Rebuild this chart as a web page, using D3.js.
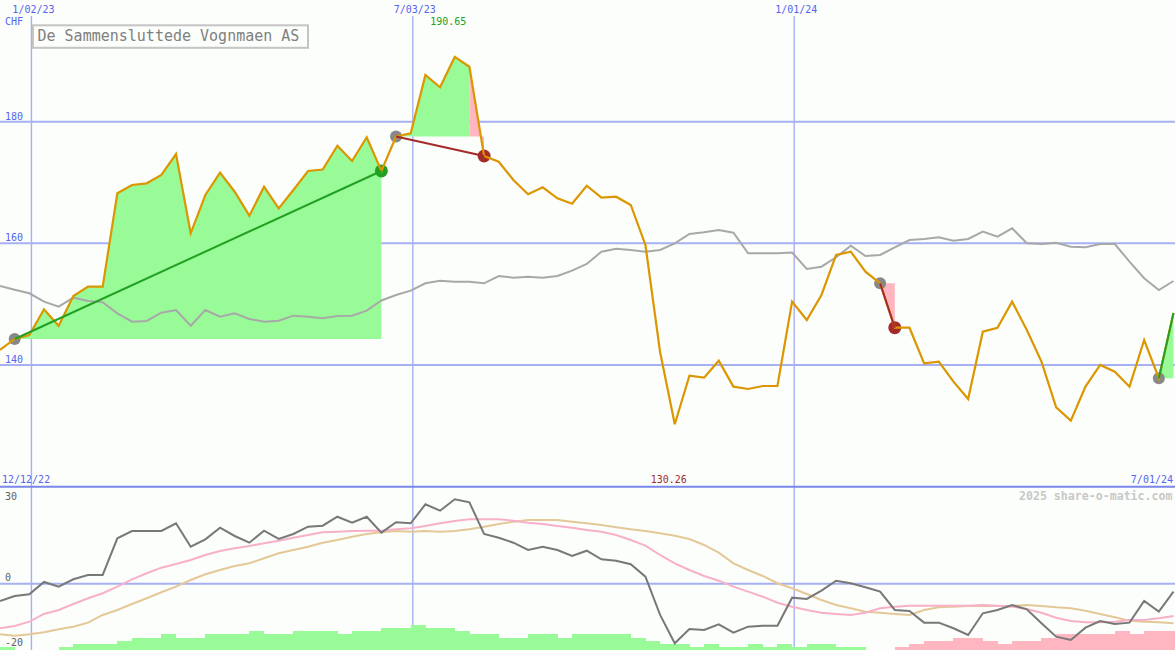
<!DOCTYPE html>
<html>
<head>
<meta charset="utf-8">
<script src="https://cdnjs.cloudflare.com/ajax/libs/d3/7.8.5/d3.min.js"></script>
<style>
	html, body { margin: 0; padding: 0; background: #fbfefb; }
	svg { display: block; }
	text { font-family: "DejaVu Sans Mono", monospace; }
</style>
</head>
<body>
<svg id="chart" width="1175" height="650"></svg>
<script>
'use strict';

// Weekly closes, De Sammensluttede Vognmaen AS (CHF), with a benchmark line,
// an oscillator panel and trade markers. Share-o-matic style.

const firstWeek = new Date(2022, 11, 18);

const priceClose = [
	142.47, 144.28, 144.94, 149.16, 146.46, 151.35, 152.88, 152.88, 168.23, 169.59,
	169.87, 171.24, 174.69, 161.65, 167.95, 171.62, 168.49, 164.55, 169.31, 165.76,
	168.77, 171.90, 172.14, 176.05, 173.54, 177.44, 171.90, 177.57, 178.09, 187.68,
	185.66, 190.65, 189.04, 174.36, 173.42, 170.42, 168.07, 169.22, 167.41, 166.52,
	169.48, 167.51, 167.67, 166.31, 159.73, 142.14, 130.26, 138.24, 137.92, 140.71,
	136.44, 136.06, 136.55, 136.55, 150.41, 147.40, 151.51, 158.09, 158.63, 155.34,
	153.43, 146.13, 146.13, 140.28, 140.55, 137.26, 134.41, 145.48, 146.13, 150.41,
	145.76, 140.55, 133.05, 130.85, 136.44, 140.00, 138.90, 136.44, 144.11, 137.82,
	148.55
];

const benchmark = [
	152.99, 152.38, 151.79, 150.41, 149.59, 151.07, 150.52, 150.31, 148.50, 147.12,
	147.24, 148.60, 149.04, 146.46, 149.04, 147.94, 148.50, 147.57, 147.12, 147.29,
	148.11, 147.94, 147.68, 148.06, 148.11, 148.93, 150.61, 151.51, 152.22, 153.43,
	153.86, 153.70, 153.70, 153.43, 154.63, 154.35, 154.52, 154.35, 154.63, 155.51,
	156.61, 158.63, 159.12, 158.91, 158.63, 158.91, 160.01, 161.54, 161.82, 162.20,
	161.75, 158.37, 158.37, 158.37, 158.50, 155.78, 156.16, 157.71, 159.62, 157.92,
	158.09, 159.35, 160.55, 160.72, 161.00, 160.44, 160.72, 161.92, 161.09, 162.48,
	160.01, 159.89, 160.11, 159.45, 159.35, 159.89, 159.89, 156.98, 154.26, 152.33,
	153.81
];

const momentum = [
	-5.48, -3.90, -3.36, 0.54, -0.95, 1.39, 2.76, 2.76, 14.38, 16.69,
	16.69, 16.69, 19.13, 11.72, 14.06, 17.74, 15.11, 12.99, 16.79, 14.16,
	15.74, 18.06, 18.37, 21.22, 19.32, 21.22, 16.16, 19.45, 19.13, 25.15,
	23.12, 26.73, 25.78, 15.74, 14.57, 12.99, 10.67, 11.72, 10.67, 8.77,
	10.45, 7.73, 7.29, 6.15, 2.22, -9.91, -18.88, -14.35, -14.67, -12.86,
	-15.52, -13.62, -13.30, -13.30, -4.43, -4.85, -2.22, 0.95, 0.13, -1.14,
	-2.53, -8.33, -8.65, -12.35, -12.35, -14.13, -16.25, -9.38, -8.33, -6.75,
	-8.11, -12.54, -16.79, -17.83, -13.94, -11.82, -12.77, -12.35, -5.48, -8.87,
	-2.53
];

const fastAverage = [
	-14.13, -13.40, -12.04, -9.60, -8.33, -6.43, -4.62, -3.04, -0.95, 1.39,
	3.29, 5.07, 6.24, 7.51, 9.09, 10.36, 11.21, 11.94, 12.80, 13.62,
	14.57, 15.43, 16.28, 16.47, 16.69, 16.79, 16.79, 17.23, 17.55, 18.28,
	19.13, 19.86, 20.40, 20.40, 20.40, 19.96, 19.32, 18.91, 18.28, 17.74,
	17.01, 16.47, 15.43, 13.84, 12.04, 9.09, 6.46, 4.34, 2.44, 0.95,
	-0.95, -2.53, -4.12, -6.02, -7.29, -8.33, -9.19, -9.60, -9.91, -9.19,
	-7.79, -7.29, -6.97, -6.97, -6.97, -6.97, -6.97, -6.75, -6.97, -7.29,
	-8.01, -9.19, -10.77, -11.82, -12.23, -12.23, -12.04, -11.50, -11.50, -10.96,
	-10.23
];

const slowAverage = [
	-16.03, -16.47, -16.03, -15.40, -14.44, -13.62, -12.35, -9.91, -8.33, -6.43,
	-4.62, -2.72, -0.95, 1.17, 2.98, 4.34, 5.61, 6.46, 8.05, 9.63,
	10.67, 11.72, 12.99, 13.84, 14.89, 15.74, 16.28, 16.69, 16.47, 16.69,
	16.47, 16.69, 17.23, 18.06, 18.91, 19.64, 20.18, 20.18, 20.18, 19.64,
	19.13, 18.59, 17.87, 17.23, 16.69, 15.96, 15.20, 14.16, 12.26, 9.82,
	6.46, 4.34, 2.44, 0.13, -1.46, -3.26, -5.16, -6.75, -7.79, -8.87,
	-9.19, -9.60, -9.91, -8.33, -7.48, -7.29, -7.06, -7.06, -7.06, -7.06,
	-6.75, -7.06, -7.48, -7.79, -8.55, -9.60, -10.64, -11.72, -12.04, -12.23,
	-12.54
];

// signed strength bars: + green, - pink
const signalBars = [
	1, 0, 0, 0, 1, 2, 2, 2, 3, 4,
	4, 5, 4, 4, 5, 5, 5, 6, 5, 5,
	6, 6, 6, 5, 6, 6, 7, 7, 8, 7,
	7, 6, 5, 5, 4, 4, 5, 5, 4, 5,
	5, 5, 5, 4, 3, 2, 2, 1, 2, 1,
	1, 2, 1, 2, 1, 2, 2, 1, 1, 0,
	0, -1, -2, -3, -3, -4, -4, -3, -2, -3,
	-3, -4, -5, -5, -5, -5, -6, -5, -6, -6,
	-6
];

// trades: week index of entry and exit (null = still open)
const tradeEntries = [1, 27, 60, 79];
const tradeExits = [26, 33, 61, null];

const priceTicks = [180, 160, 140];
const oscTicks = [30, 0, -20];
const gridDates = [new Date(2023, 0, 2), new Date(2023, 6, 3), new Date(2024, 0, 1)];
const edgeDates = ['12/12/22', '7/01/24'];
const title = 'De Sammensluttede Vognmaen AS';
const currency = 'CHF';
const credit = '2025 share-o-matic.com';

const chart = (() => {

	const W = 1175, H = 650;
	const SPLIT = 486.7;

	const PALETTE = {
		bg: '#fbfefb',
		grid: '#a6b0f2',
		split: '#7a86ea',
		label: '#5664ee',
		oscLabel: '#606060',
		price: '#dc9600',
		bench: '#a8a8a8',
		gain: '#98fb98',
		loss: '#ffb6c1',
		win: '#22a022',
		lose: '#a52a2a',
		entry: '#888888',
		momentum: '#787878',
		fast: '#f8b0c8',
		slow: '#e4c898',
		titleBox: '#c4c4c4',
		titleText: '#808080',
		credit: '#c8c8c8'
	};

	const svg = d3.select('#chart');
	const weeks = priceClose.map((_, i) => d3.timeWeek.offset(firstWeek, i));

	const x = d3.scaleTime()
		.domain([weeks[0], weeks[weeks.length - 1]])
		.range([0, 1173.5]);
	const yPrice = d3.scaleLinear().domain([140, 180]).range([365, 121.7]);
	const yOsc = d3.scaleLinear().domain([-20, 30]).range([646.8, 489]);
	const yBar = d3.scaleLinear().domain([0, 8]).range([650, 625]);

	const xi = (i) => x(weeks[i]);

	function clip(id, y0, y1) {
		svg.append('clipPath').attr('id', id)
			.append('rect').attr('x', 0).attr('y', y0).attr('width', W).attr('height', y1 - y0);
	}

	// ----------------------- grid -----------------------------------------

	function paintGrid() {
		svg.append('rect').attr('width', W).attr('height', H).attr('fill', PALETTE.bg);

		svg.append('g')
			.call(d3.axisLeft(yPrice).tickValues(priceTicks).tickSize(-W)
				.tickFormat(d3.format('d')).offset(0))
			.call((g) => g.select('.domain').remove())
			.call((g) => g.selectAll('line').attr('stroke', PALETTE.grid).attr('stroke-width', 2))
			.call((g) => g.selectAll('text')
				.attr('x', 5).attr('dy', -2.2).attr('text-anchor', 'start')
				.attr('fill', PALETTE.label)
				.style('font-family', '"DejaVu Sans Mono", monospace').style('font-size', '10px'));

		svg.append('g')
			.call(d3.axisLeft(yOsc).tickValues([0]).tickSize(-W).tickFormat('').offset(0))
			.call((g) => g.select('.domain').remove())
			.call((g) => g.selectAll('line').attr('stroke', PALETTE.grid).attr('stroke-width', 2));

		svg.append('g').attr('transform', 'translate(0,16)')
			.call(d3.axisTop(x).tickValues(gridDates).tickSize(-(H - 16))
				.tickFormat(d3.timeFormat('%-m/%d/%y')).offset(0))
			.call((g) => g.select('.domain').remove())
			.call((g) => g.selectAll('line').attr('stroke', PALETTE.grid).attr('stroke-width', 1.4))
			.call((g) => g.selectAll('text')
				.attr('dx', 2).attr('y', -3.5).attr('fill', PALETTE.label)
				.style('font-family', '"DejaVu Sans Mono", monospace').style('font-size', '10px'));

		svg.append('line')
			.attr('x1', 0).attr('x2', W).attr('y1', SPLIT).attr('y2', SPLIT)
			.attr('stroke', PALETTE.split).attr('stroke-width', 2);
	}

	// ----------------------- price panel ----------------------------------

	function paintTradeFills() {
		const g = svg.append('g').attr('clip-path', 'url(#main)');
		tradeEntries.forEach((entry, t) => {
			const exit = tradeExits[t] == null ? priceClose.length - 1 : tradeExits[t];
			const level = priceClose[entry];
			const area = d3.area()
				.x((i) => xi(i))
				.y0(yPrice(level))
				.y1((i) => yPrice(priceClose[i]));
			// group consecutive segments of the same colour into one polygon
			let runStart = entry;
			for (let i = entry; i < exit; i++) {
				const up = priceClose[i + 1] >= level;
				const nextUp = i + 1 < exit ? priceClose[i + 2] >= level : null;
				if (nextUp !== up) {
					g.append('path')
						.attr('d', area(d3.range(runStart, i + 2)))
						.attr('fill', up ? PALETTE.gain : PALETTE.loss);
					runStart = i + 1;
				}
			}
		});
	}

	function paintMarkers() {
		const g = svg.append('g').attr('clip-path', 'url(#main)');
		tradeEntries.forEach((entry, t) => {
			const exit = tradeExits[t];
			g.append('circle')
				.attr('cx', xi(entry)).attr('cy', yPrice(priceClose[entry]))
				.attr('r', 6).attr('fill', PALETTE.entry);
			if (exit == null) return;
			const won = priceClose[exit] >= priceClose[entry];
			g.append('circle')
				.attr('cx', xi(exit)).attr('cy', yPrice(priceClose[exit]))
				.attr('r', 6.5).attr('fill', won ? PALETTE.win : PALETTE.lose);
		});
	}

	function paintPriceLines() {
		const g = svg.append('g').attr('clip-path', 'url(#main)').attr('fill', 'none');
		const line = (series) => d3.line().x((_, i) => xi(i)).y((v) => yPrice(v))(series);
		g.append('path').attr('d', line(benchmark))
			.attr('stroke', PALETTE.bench).attr('stroke-width', 2);
		g.append('path').attr('d', line(priceClose))
			.attr('stroke', PALETTE.price).attr('stroke-width', 2.2);
	}

	function paintTradeLines() {
		const g = svg.append('g').attr('clip-path', 'url(#main)');
		tradeEntries.forEach((entry, t) => {
			const exit = tradeExits[t] == null ? priceClose.length - 1 : tradeExits[t];
			const won = priceClose[exit] >= priceClose[entry];
			g.append('line')
				.attr('x1', xi(entry)).attr('y1', yPrice(priceClose[entry]))
				.attr('x2', xi(exit)).attr('y2', yPrice(priceClose[exit]))
				.attr('stroke', won ? PALETTE.win : PALETTE.lose).attr('stroke-width', 2);
		});
	}

	function paintExtremes() {
		const hi = d3.maxIndex(priceClose), lo = d3.minIndex(priceClose);
		const fmt = d3.format('.2f');
		svg.append('text').attr('x', xi(hi) - 24.5).attr('y', 25)
			.attr('fill', PALETTE.win).style('font-size', '10px').text(fmt(priceClose[hi]));
		svg.append('text').attr('x', xi(lo) - 24).attr('y', 483)
			.attr('fill', PALETTE.lose).style('font-size', '10px').text(fmt(priceClose[lo]));
	}

	function paintLabels() {
		svg.append('text').attr('x', 5).attr('y', 24.5)
			.attr('fill', PALETTE.label).style('font-size', '10px').text(currency);
		svg.append('text').attr('x', 2).attr('y', 483)
			.attr('fill', PALETTE.label).style('font-size', '10px').text(edgeDates[0]);
		svg.append('text').attr('x', 1173).attr('y', 483).attr('text-anchor', 'end')
			.attr('fill', PALETTE.label).style('font-size', '10px').text(edgeDates[1]);

		svg.append('rect').attr('x', 33).attr('y', 25.3).attr('width', 275).attr('height', 22.5)
			.attr('fill', PALETTE.bg).attr('stroke', PALETTE.titleBox).attr('stroke-width', 2);
		svg.append('text').attr('x', 37.5).attr('y', 41.3)
			.attr('fill', PALETTE.titleText).style('font-size', '15px').text(title);

		svg.append('text').attr('x', 1172.5).attr('y', 500).attr('text-anchor', 'end')
			.attr('fill', PALETTE.credit).style('font-size', '11.6px').style('font-weight', 'bold')
			.text(credit);

		// oscillator labels sit inside the panel edges
		const nudge = { 30: 10.5, 0: -2.7, '-20': -1.3 };
		svg.append('g').selectAll('text').data(oscTicks).join('text')
			.attr('x', 5).attr('y', (d) => yOsc(d) + nudge[d])
			.attr('fill', PALETTE.oscLabel).style('font-size', '10px')
			.text((d) => d);
	}

	// ----------------------- oscillator panel -----------------------------

	function paintBars() {
		svg.append('g').attr('clip-path', 'url(#osc)').attr('shape-rendering', 'crispEdges')
			.selectAll('rect').data(signalBars).join('rect')
			.attr('x', (_, i) => xi(i))
			.attr('width', (_, i) => x(d3.timeWeek.offset(weeks[i], 1)) - xi(i) + 0.3)
			.attr('y', (v) => yBar(Math.abs(v)))
			.attr('height', (v) => yBar(0) - yBar(Math.abs(v)))
			.attr('fill', (v) => (v >= 0 ? PALETTE.gain : PALETTE.loss));
	}

	function paintOscLines() {
		const g = svg.append('g').attr('clip-path', 'url(#osc)').attr('fill', 'none');
		const line = (series) => d3.line().x((_, i) => xi(i)).y((v) => yOsc(v))(series);
		g.append('path').attr('d', line(slowAverage)).attr('stroke', PALETTE.slow).attr('stroke-width', 2);
		g.append('path').attr('d', line(fastAverage)).attr('stroke', PALETTE.fast).attr('stroke-width', 2);
		g.append('path').attr('d', line(momentum)).attr('stroke', PALETTE.momentum).attr('stroke-width', 2);
	}

	function render() {
		clip('main', 0, SPLIT - 1);
		clip('osc', SPLIT + 1, H);
		paintGrid();
		paintTradeFills();
		paintMarkers();
		paintPriceLines();
		paintTradeLines();
		paintBars();
		paintOscLines();
		paintExtremes();
		paintLabels();
	}

	return { render };

})();

chart.render();
</script>
</body>
</html>
